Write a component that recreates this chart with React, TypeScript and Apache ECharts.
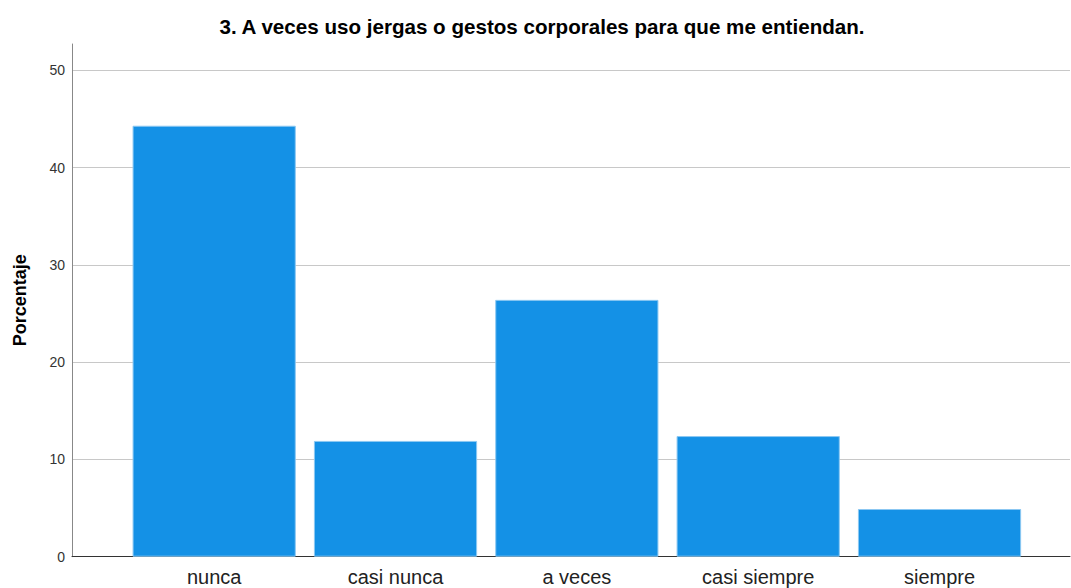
import React, { useEffect, useRef } from "react";
import * as echarts from "echarts";

const categories = ["nunca", "casi nunca", "a veces", "casi siempre", "siempre"];
const percentages = [44.3, 11.9, 26.4, 12.4, 4.9];
const yTicks = [0, 10, 20, 30, 40, 50];

const TITLE = "3. A veces uso jergas o gestos corporales para que me entiendan.";
const Y_NAME = "Porcentaje";
const Y_MAX = 52.7;
const FONT = "'Liberation Sans', Arial, sans-serif";

export default function App() {
  const ref = useRef<HTMLDivElement>(null);
  useEffect(() => {
    if (!ref.current) return;
    const chart = echarts.init(ref.current, null, { renderer: "svg" });
    chart.setOption({
      animation: false,
      backgroundColor: "#ffffff",
      textStyle: { fontFamily: FONT },
      title: {
        text: TITLE,
        left: 537,
        textAlign: "center",
        top: 11,
        textStyle: { fontFamily: FONT, fontSize: 20.6, fontWeight: "bold", color: "#000" },
      },
      grid: [
        { left: 72, right: 1, top: 44, bottom: 31.3, containLabel: false },
        { left: 123.5, width: 906.7, top: 44, bottom: 31.3, containLabel: false },
      ],
      xAxis: [
        {
          type: "value",
          gridIndex: 0,
          min: 0,
          max: 1,
          axisLine: { show: true, onZero: false, lineStyle: { color: "#333", width: 1 } },
          axisTick: { show: false },
          axisLabel: { show: false },
          splitLine: { show: false },
        },
        {
          type: "category",
          gridIndex: 1,
          data: categories,
          axisLine: { show: false },
          axisTick: { show: false },
          axisLabel: { color: "#222", fontSize: 20, fontFamily: FONT, margin: 10 },
        },
      ],
      yAxis: [
        {
          type: "value",
          gridIndex: 0,
          min: 0,
          max: Y_MAX,
          interval: 10,
          name: Y_NAME,
          nameLocation: "middle",
          nameGap: 43,
          nameRotate: 90,
          nameTextStyle: { fontFamily: FONT, fontSize: 18, fontWeight: "bold", color: "#000" },
          axisLine: { show: true, lineStyle: { color: "#888", width: 1 } },
          axisTick: { show: false },
          axisLabel: {
            color: "#333",
            fontSize: 14,
            fontFamily: FONT,
            margin: 7,
            showMaxLabel: false,
            formatter: (v: number) => (yTicks.includes(v) ? String(v) : ""),
          },
          splitLine: { show: true, showMaxLine: false, lineStyle: { color: "#c8c8c8", width: 1 } },
        },
        {
          type: "value",
          gridIndex: 1,
          min: 0,
          max: Y_MAX,
          interval: 10,
          show: false,
          splitLine: { show: false },
        },
      ],
      series: [
        {
          type: "bar",
          xAxisIndex: 1,
          yAxisIndex: 1,
          data: percentages,
          barCategoryGap: "10%",
          itemStyle: { color: "#1491e6", borderColor: "#8cc8f2", borderWidth: 1 },
        },
      ],
    });
    return () => chart.dispose();
  }, []);
  return <div ref={ref} style={{ width: 1071, height: 588, position: "absolute", left: 0, top: 0 }} />;
}
